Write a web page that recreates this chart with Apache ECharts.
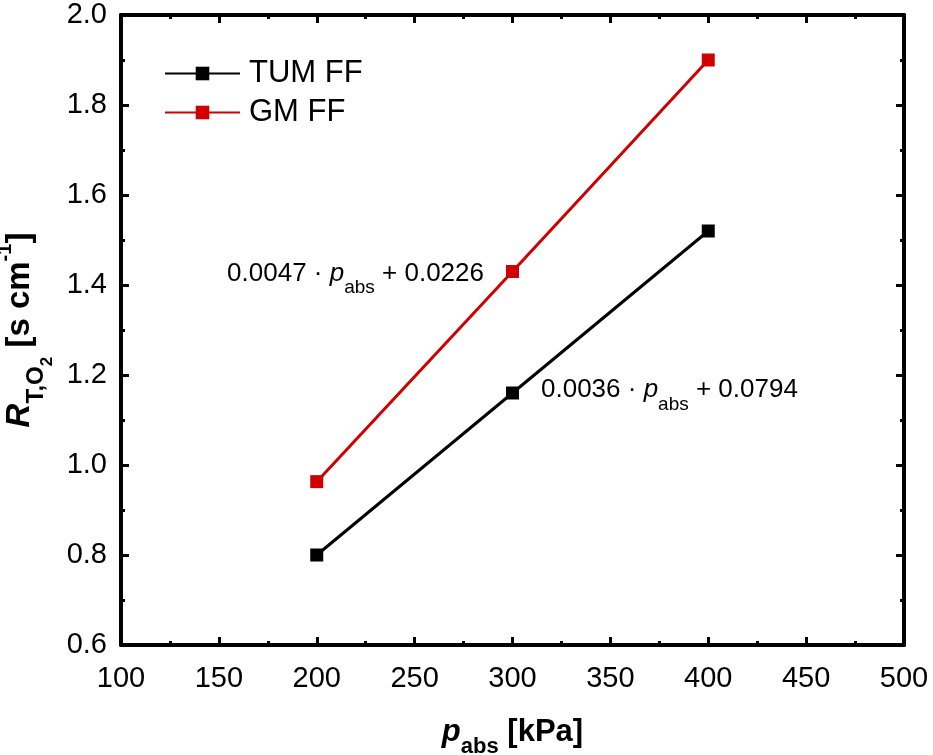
<!DOCTYPE html>
<html><head><meta charset="utf-8">
<script src="https://cdn.jsdelivr.net/npm/echarts@6/dist/echarts.min.js"></script>
<style>html,body{margin:0;padding:0;background:#fff}#c{width:933px;height:755px}</style>
</head><body><div id="c"></div>
<script>
const pressures = [200, 300, 400];
const tumFF = [0.80, 1.16, 1.52];
const gmFF = [0.963, 1.43, 1.90];
const fitTUM = '{n|0.0036 · }{i|p}{s|abs}{n| + 0.0794}';
const fitGM = '{n|0.0047 · }{i|p}{s|abs}{n| + 0.0226}';
const xTicks = {min: 100, max: 500, interval: 50};
const yTicks = {min: 0.6, max: 2.0, interval: 0.2};

const F = 'Liberation Sans, Arial, sans-serif';
const chart = echarts.init(document.getElementById('c'));
const labRich = {
  n: {fontFamily: F, fontSize: 26, color: '#000', lineHeight: 30},
  i: {fontFamily: F, fontSize: 26, fontStyle: 'italic', color: '#000', lineHeight: 30},
  s: {fontFamily: F, fontSize: 19, color: '#000', verticalAlign: 'bottom', lineHeight: 19, padding: [0,0,-9,0]}
};
function axisCommon(show) {
  return {
    axisLine: {show: true, onZero: false, lineStyle: {color: '#000', width: 4}},
    axisTick: {show: true, inside: true, length: 8, lineStyle: {color: '#000', width: 3}},
    minorTick: {show: true, splitNumber: 2, length: 4, lineStyle: {color: '#000', width: 3}},
    splitLine: {show: false},
    axisLabel: {show: show, color: '#000', fontFamily: F, fontSize: 29}
  };
}
const option = {
  animation: false,
  backgroundColor: '#fff',
  grid: {left: 121, right: 29, top: 15, bottom: 110, containLabel: false, outerBoundsMode: 'none'},
  legend: {
    orient: 'vertical', left: 159, top: 53, itemWidth: 75, itemHeight: 17, itemGap: 8,
    textStyle: {fontFamily: F, fontSize: 31, color: '#000', padding: [0, 0, 0, 4]},
    data: ['TUM FF', 'GM FF']
  },
  xAxis: [
    Object.assign({type: 'value', position: 'bottom', min: xTicks.min, max: xTicks.max, interval: xTicks.interval,
      name: '{i|p}{s|abs}{b| [kPa]}', nameLocation: 'middle', nameGap: 69,
      nameTextStyle: {rich: {
        i: {fontFamily: F, fontSize: 31, fontWeight: 'bold', fontStyle: 'italic', color: '#000', lineHeight: 36},
        s: {fontFamily: F, fontSize: 22, fontWeight: 'bold', color: '#000', verticalAlign: 'bottom', lineHeight: 22, padding: [0,0,-8,0]},
        b: {fontFamily: F, fontSize: 31, fontWeight: 'bold', color: '#000', lineHeight: 36}
      }}}, axisCommon(true), {axisLabel: {show: true, color: '#000', fontFamily: F, fontSize: 29, margin: 19}}),
    Object.assign({type: 'value', position: 'top', min: xTicks.min, max: xTicks.max, interval: xTicks.interval}, axisCommon(false))
  ],
  yAxis: [
    Object.assign({type: 'value', position: 'left', min: yTicks.min, max: yTicks.max, interval: yTicks.interval,
      name: '{i|R}{s|T,O}{s2|2}{b| [s cm}{p|-1}{b|]}', nameLocation: 'middle', nameGap: 77, nameRotate: 90,
      nameTextStyle: {rich: {
        i: {fontFamily: F, fontSize: 33, fontWeight: 'bold', fontStyle: 'italic', color: '#000', lineHeight: 38},
        s: {fontFamily: F, fontSize: 24, fontWeight: 'bold', color: '#000', verticalAlign: 'bottom', lineHeight: 24, padding: [0,0,-10,0]},
        s2: {fontFamily: F, fontSize: 17, fontWeight: 'bold', color: '#000', verticalAlign: 'bottom', lineHeight: 17, padding: [0,0,-17,0]},
        p: {fontFamily: F, fontSize: 20, fontWeight: 'bold', color: '#000', verticalAlign: 'top', lineHeight: 20, padding: [-5,0,0,0]},
        b: {fontFamily: F, fontSize: 33, fontWeight: 'bold', color: '#000', lineHeight: 38}
      }}}, axisCommon(true), {axisLabel: {show: true, color: '#000', fontFamily: F, fontSize: 29, margin: 14, formatter: v => v.toFixed(1)}}),
    Object.assign({type: 'value', position: 'right', min: yTicks.min, max: yTicks.max, interval: yTicks.interval}, axisCommon(false))
  ],
  series: [
    {name: 'TUM FF', type: 'line', symbol: 'rect', symbolSize: 13,
      itemStyle: {color: '#000'}, lineStyle: {color: '#000', width: 3},
      data: pressures.map((p, k) => {
        const d = {value: [p, tumFF[k]]};
        if (k === 1) d.label = {show: true, position: 'right', distance: 22, offset: [0, -3], formatter: fitTUM, rich: labRich};
        return d;
      })},
    {name: 'GM FF', type: 'line', symbol: 'rect', symbolSize: 13,
      itemStyle: {color: '#d00000'}, lineStyle: {color: '#d00000', width: 3},
      data: pressures.map((p, k) => {
        const d = {value: [p, gmFF[k]]};
        if (k === 1) d.label = {show: true, position: 'left', distance: 22, offset: [0, 2], formatter: fitGM, rich: labRich};
        return d;
      })}
  ]
};
chart.setOption(option);
</script></body></html>
